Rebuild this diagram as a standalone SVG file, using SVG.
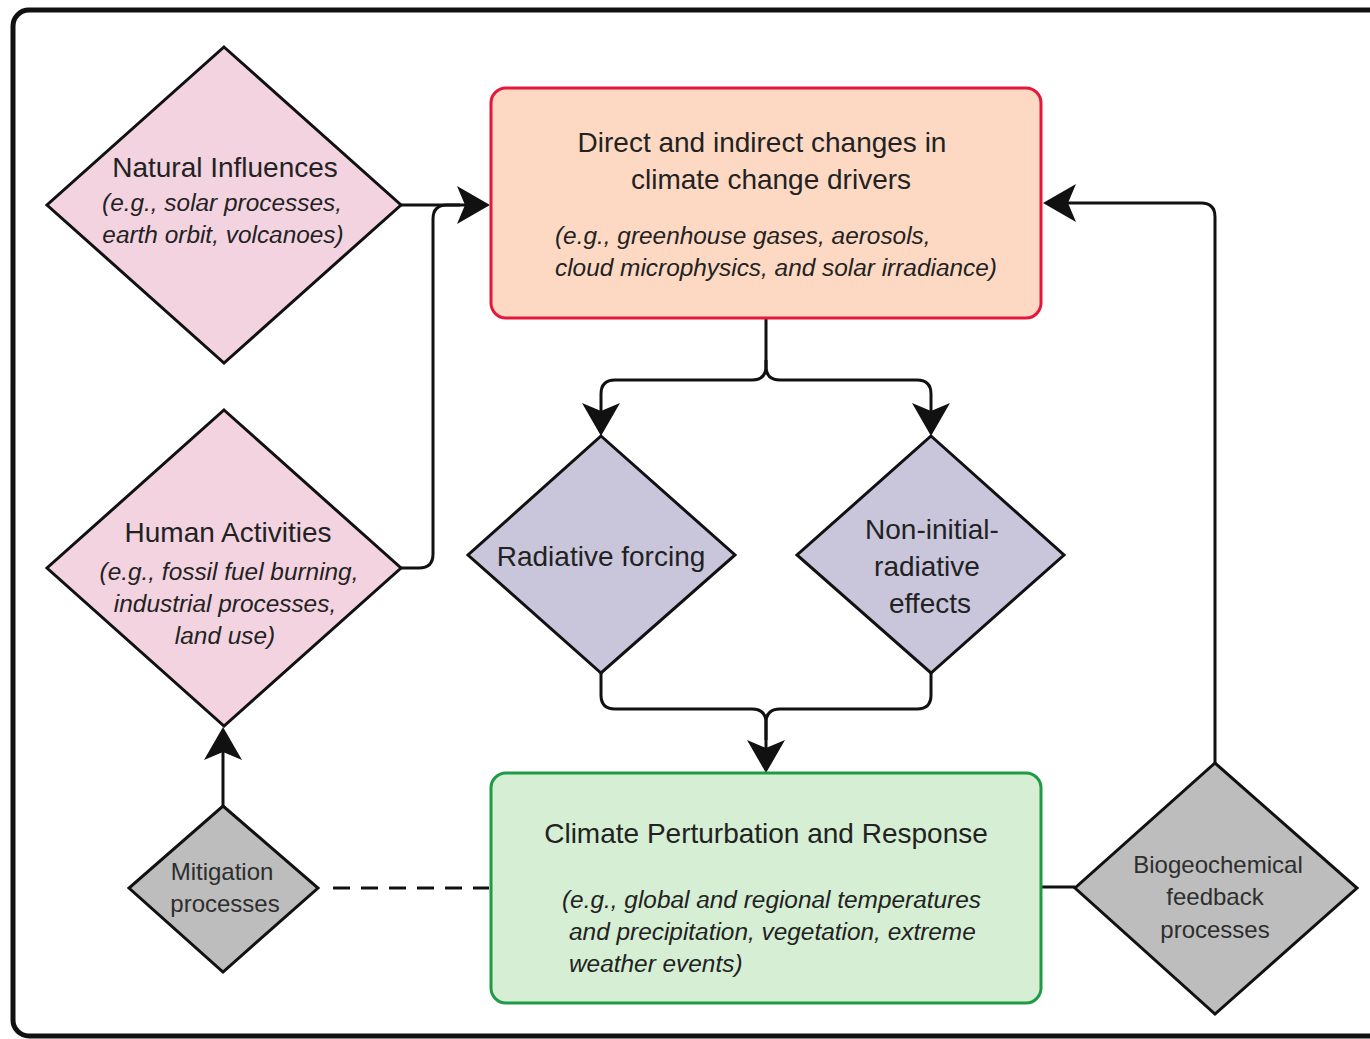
<svg xmlns="http://www.w3.org/2000/svg" width="1370" height="1039" viewBox="0 0 1370 1039">
  <style>
    .t { font-family: "Liberation Sans", Arial, sans-serif; fill: #222; }
    .h { font-size: 28px; }
    .i { font-size: 24.4px; font-style: italic; }
    .s { font-size: 24px; fill: #2e2e2e; }
    .c { text-anchor: middle; }
    .node { stroke: #111; stroke-width: 3; stroke-linejoin: miter; }
    .pink { fill: #f4d3e1; }
    .lav { fill: #c9c6dc; }
    .gray { fill: #bdbdbd; }
    .conn { fill: none; stroke: #111; stroke-width: 3; }
  </style>
  <defs>
    <marker id="arr" viewBox="0 0 33 38" refX="8" refY="19" markerWidth="33" markerHeight="38" markerUnits="userSpaceOnUse" orient="auto">
      <path d="M0,0 L33,19 L0,38 L8,19 Z" fill="#111"/>
    </marker>
  </defs>
  <rect x="0" y="0" width="1370" height="1039" fill="#ffffff"/>
  <rect id="frame" x="13" y="10" width="1400" height="1026" rx="16" fill="none" stroke="#111" stroke-width="5"/>

  <g id="connectors">
    <path class="conn" d="M401,205 H465" marker-end="url(#arr)"/>
    <path class="conn" d="M401,568 H419 Q433,568 433,554 V219 Q433,205 447,205 H460"/>
    <path class="conn" d="M766,318 V366 Q766,380 752,380 H615 Q601,380 601,394 V411" marker-end="url(#arr)"/>
    <path class="conn" d="M766,360 V366 Q766,380 780,380 H917 Q931,380 931,394 V411" marker-end="url(#arr)"/>
    <path class="conn" d="M601,673 V695 Q601,709 615,709 H752 Q766,709 766,723 V748" marker-end="url(#arr)"/>
    <path class="conn" d="M931,673 V695 Q931,709 917,709 H780 Q766,709 766,723 V740"/>
    <path class="conn" d="M223,806 V752" marker-end="url(#arr)"/>
    <path class="conn" d="M333,888 H489" stroke-dasharray="17 11"/>
    <path class="conn" d="M1041,887 H1075"/>
    <path class="conn" d="M1215,763 V217 Q1215,203 1201,203 H1068" marker-end="url(#arr)"/>
  </g>

  <g id="natural">
    <polygon class="node pink" points="224,47 401,205 224,363 47,205"/>
    <text class="t h c" x="225" y="177">Natural Influences</text>
    <text class="t i c" x="222" y="211">(e.g., solar processes,</text>
    <text class="t i c" x="223" y="243">earth orbit, volcanoes)</text>
  </g>

  <g id="human">
    <polygon class="node pink" points="224,410 401,568 224,726 47,568"/>
    <text class="t h c" x="228" y="542">Human Activities</text>
    <text class="t i c" x="229" y="580">(e.g., fossil fuel burning,</text>
    <text class="t i c" x="225" y="612">industrial processes,</text>
    <text class="t i c" x="225" y="644">land use)</text>
  </g>

  <g id="drivers">
    <rect x="491" y="88" width="550" height="230" rx="15" fill="#fdd9c4" stroke="#e4183c" stroke-width="3"/>
    <text class="t h c" x="762" y="152">Direct and indirect changes in</text>
    <text class="t h c" x="771" y="189">climate change drivers</text>
    <text class="t i" x="555" y="244">(e.g., greenhouse gases, aerosols,</text>
    <text class="t i" x="555" y="276">cloud microphysics, and solar irradiance)</text>
  </g>

  <g id="radiative">
    <polygon class="node lav" points="601,436 735,555 601,673 468,555"/>
    <text class="t h c" x="601" y="566">Radiative forcing</text>
  </g>

  <g id="noninitial">
    <polygon class="node lav" points="931,436 1064,555 931,673 797,555"/>
    <text class="t h c" x="932" y="539">Non-initial-</text>
    <text class="t h c" x="927" y="576">radiative</text>
    <text class="t h c" x="930" y="613">effects</text>
  </g>

  <g id="response">
    <rect x="491" y="773" width="550" height="230" rx="15" fill="#d5eed4" stroke="#1f9a45" stroke-width="3"/>
    <text class="t h c" x="766" y="843">Climate Perturbation and Response</text>
    <text class="t i" x="562" y="908">(e.g., global and regional temperatures</text>
    <text class="t i" x="569" y="940">and precipitation, vegetation, extreme</text>
    <text class="t i" x="569" y="972">weather events)</text>
  </g>

  <g id="mitigation">
    <polygon class="node gray" points="223,806 318,888 223,972 129,888"/>
    <text class="t s c" x="222" y="880">Mitigation</text>
    <text class="t s c" x="225" y="912">processes</text>
  </g>

  <g id="biogeochemical">
    <polygon class="node gray" points="1215,763 1357,888 1215,1014 1075,888"/>
    <text class="t s c" x="1218" y="873">Biogeochemical</text>
    <text class="t s c" x="1215" y="905">feedback</text>
    <text class="t s c" x="1215" y="938">processes</text>
  </g>
</svg>
